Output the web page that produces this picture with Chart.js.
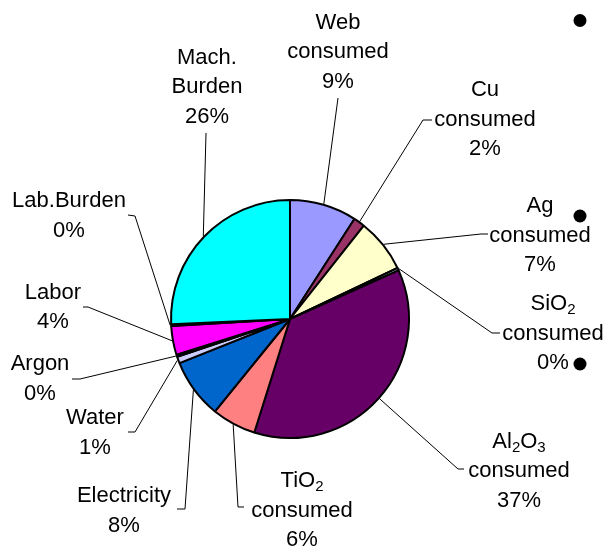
<!DOCTYPE html>
<html>
<head>
<meta charset="utf-8">
<script src="https://cdn.jsdelivr.net/npm/chart.js@4/dist/chart.umd.min.js"></script>
<style>
  html, body { margin: 0; padding: 0; background: #fff; }
  #wrap { position: relative; width: 606px; height: 549px; }
</style>
</head>
<body>
<div id="wrap"><canvas id="c" width="606" height="549"></canvas></div>
<script>
// Cost breakdown categories (each entry is the list of label lines)
const categories = [
  ['Web', 'consumed'],
  ['Cu', 'consumed'],
  ['Ag', 'consumed'],
  ['SiO₂', 'consumed'],
  ['Al₂O₃', 'consumed'],
  ['TiO₂', 'consumed'],
  ['Electricity'],
  ['Water'],
  ['Argon'],
  ['Labor'],
  ['Lab.Burden'],
  ['Mach.', 'Burden']
];
// Share of total cost, percent
const shares = [9.1, 1.55, 7.3, 0.35, 36.55, 6.0, 8.1, 0.9, 0.3, 3.9, 0.25, 25.7];

const sliceColors = ['#9999FF', '#993366', '#FFFFCC', '#CCFFFF', '#660066', '#FF8080',
                     '#0066CC', '#CCCCFF', '#000080', '#FF00FF', '#FFFF00', '#00FFFF'];

const FONT = '"Liberation Sans", Arial, sans-serif';
const MAIN_PX = 22, SUB_PX = 15, SUB_DROP = 4, LINE_H = 29.7;

// Label block placement: centre x, first baseline, leader elbow and tick end
const labelLayout = [
  { x: 338, y: 28.5,  elbow: [338, 98] },
  { x: 485, y: 96,    elbow: [423, 120], tick: [432, 120] },
  { x: 540, y: 212,   elbow: [481, 234], tick: [488, 234] },
  { x: 553, y: 310,   elbow: [492, 333], tick: [500, 333] },
  { x: 519, y: 447.5, elbow: [458, 469], tick: [464, 469] },
  { x: 302, y: 487,   elbow: [238, 507], tick: [244, 507] },
  { x: 124, y: 502,   elbow: [185, 509], tick: [177, 509] },
  { x: 95,  y: 424,   elbow: [135, 432], tick: [128, 432] },
  { x: 40,  y: 370,   elbow: [80, 379],  tick: [72, 379] },
  { x: 53,  y: 298.5, elbow: [88, 307],  tick: [83, 307] },
  { x: 69,  y: 207,   elbow: [135, 216], tick: [128, 215] },
  { x: 207, y: 63.5,  elbow: [206, 133] }
];

const SUBS = '₀₁₂₃₄₅₆₇₈₉';

// Split a string into normal / subscript runs
function runs(str) {
  const out = [];
  for (const ch of str) {
    const i = SUBS.indexOf(ch);
    const sub = i >= 0;
    const c = sub ? String(i) : ch;
    if (out.length && out[out.length - 1].sub === sub) out[out.length - 1].t += c;
    else out.push({ t: c, sub });
  }
  return out;
}

function drawLine(ctx, str, cx, baseline) {
  const parts = runs(str);
  let w = 0;
  parts.forEach(p => {
    ctx.font = (p.sub ? SUB_PX : MAIN_PX) + 'px ' + FONT;
    p.w = ctx.measureText(p.t).width;
    w += p.w;
  });
  let x = cx - w / 2;
  parts.forEach(p => {
    ctx.font = (p.sub ? SUB_PX : MAIN_PX) + 'px ' + FONT;
    ctx.fillText(p.t, x, baseline + (p.sub ? SUB_DROP : 0));
    x += p.w;
  });
}

const calloutPlugin = {
  id: 'callouts',
  afterDatasetsDraw(chart) {
    const ctx = chart.ctx;
    const meta = chart.getDatasetMeta(0);
    const data = chart.data.datasets[0].data;
    const total = data.reduce((a, b) => a + b, 0);
    ctx.save();
    ctx.fillStyle = '#000';
    ctx.textAlign = 'left';
    ctx.textBaseline = 'alphabetic';
    meta.data.forEach((arc, i) => {
      const lay = labelLayout[i];
      const p = arc.getProps(['x', 'y', 'startAngle', 'endAngle', 'outerRadius'], true);
      const mid = (p.startAngle + p.endAngle) / 2;
      const r = p.outerRadius + 1;
      const ex = p.x + Math.cos(mid) * r;
      const ey = p.y + Math.sin(mid) * r;
      // leader line
      ctx.beginPath();
      ctx.strokeStyle = '#000';
      ctx.lineWidth = 1;
      ctx.moveTo(ex, ey);
      ctx.lineTo(lay.elbow[0], lay.elbow[1]);
      if (lay.tick) ctx.lineTo(lay.tick[0], lay.tick[1]);
      ctx.stroke();
      // label text
      const lines = chart.data.labels[i].concat([Math.round(data[i] / total * 100) + '%']);
      lines.forEach((ln, k) => drawLine(ctx, ln, lay.x, lay.y + k * LINE_H));
    });
    // marker dots at the right edge
    [[580, 20.5], [580, 216], [580, 364]].forEach(([x, y]) => {
      ctx.beginPath();
      ctx.arc(x, y, 6.5, 0, Math.PI * 2);
      ctx.fillStyle = '#000';
      ctx.fill();
    });
    ctx.restore();
  }
};

new Chart(document.getElementById('c'), {
  type: 'pie',
  data: {
    labels: categories,
    datasets: [{
      data: shares,
      backgroundColor: sliceColors,
      borderColor: '#000',
      borderWidth: 2
    }]
  },
  options: {
    responsive: false,
    animation: false,
    layout: { padding: { left: 170, top: 199, right: 196, bottom: 110 } },
    plugins: {
      legend: { display: false },
      tooltip: { enabled: false }
    }
  },
  plugins: [calloutPlugin]
});
</script>
</body>
</html>
